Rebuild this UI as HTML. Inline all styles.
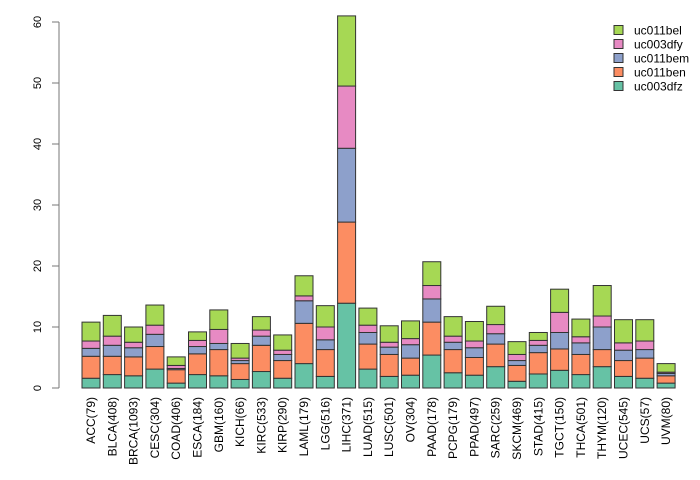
<!DOCTYPE html>
<html><head><meta charset="utf-8"><style>
html,body{margin:0;padding:0;background:#fff;}
svg{display:block;font-family:"Liberation Sans",Arial,sans-serif;}
</style></head><body>
<svg id="chart" width="700" height="480"></svg>
<script>
const categories=["ACC(79)","BLCA(408)","BRCA(1093)","CESC(304)","COAD(406)","ESCA(184)","GBM(160)","KICH(66)","KIRC(533)","KIRP(290)","LAML(179)","LGG(516)","LIHC(371)","LUAD(515)","LUSC(501)","OV(304)","PAAD(178)","PCPG(179)","PPAD(497)","SARC(259)","SKCM(469)","STAD(415)","TGCT(150)","THCA(501)","THYM(120)","UCEC(545)","UCS(57)","UVM(80)"];
const uc003dfz=[1.6,2.2,2.0,3.1,0.8,2.2,2.0,1.4,2.7,1.6,4.0,1.9,13.9,3.1,1.9,2.1,5.4,2.5,2.1,3.5,1.1,2.3,2.9,2.2,3.5,1.9,1.6,0.8];
const uc011ben=[3.6,3.0,3.1,3.7,2.2,3.4,4.3,2.6,4.3,2.9,6.6,4.4,13.3,4.1,3.6,2.8,5.4,3.8,2.9,3.7,2.6,3.5,3.5,3.3,2.8,2.6,3.3,1.2];
const uc011bem=[1.3,1.8,1.5,2.0,0.2,1.2,1.0,0.5,1.5,1.0,3.7,1.6,12.1,1.9,1.2,2.2,3.8,1.2,1.6,1.7,0.8,1.2,2.7,1.9,3.7,1.7,1.4,0.4];
const uc003dfy=[1.2,1.5,0.9,1.5,0.5,1.0,2.3,0.4,1.0,0.7,0.8,2.1,10.2,1.2,0.8,1.0,2.2,1.0,1.1,1.5,1.0,0.8,3.3,1.0,1.8,1.2,1.4,0.2];
const uc011bel=[3.1,3.4,2.5,3.3,1.4,1.4,3.2,2.4,2.2,2.5,3.3,3.5,11.5,2.8,2.7,2.9,3.9,3.2,3.2,3.0,2.1,1.3,3.8,2.9,5.0,3.8,3.5,1.4];
const yTicks=[0,10,20,30,40,50,60];
const seriesNames=["uc003dfz","uc011ben","uc011bem","uc003dfy","uc011bel"];
const seriesData=[uc003dfz,uc011ben,uc011bem,uc003dfy,uc011bel];
const colors=["#66c2a5","#fc8d62","#8da0cb","#e78ac3","#a6d854"];

const NS="http://www.w3.org/2000/svg";
const svg=document.getElementById('chart');
function mk(tag,attrs,parent){const e=document.createElementNS(NS,tag);for(const k in attrs)e.setAttribute(k,attrs[k]);(parent||svg).appendChild(e);return e;}
const y=v=>388-v*6.1;
const xLeft=i=>82+i*21.3;
const bw=18;

const axis=mk('line',{x1:59,x2:59,y1:y(0),y2:y(60),stroke:'#777','stroke-width':1});


yTicks.forEach(t=>{
  const tk=mk('line',{x1:52,x2:59,y1:y(t),y2:y(t),stroke:'#777','stroke-width':1});
  
  
  const lb=mk('text',{x:0,y:0,transform:`translate(41,${y(t)}) rotate(-90)`,'text-anchor':'middle','font-size':11,fill:'#000'});
  lb.textContent=t;
  
  
});

categories.forEach((c,i)=>{
  let cum=0;
  seriesData.forEach((s,k)=>{
    const v=s[i];
    const r=mk('rect',{x:xLeft(i),y:y(cum+v),width:bw,height:v*6.1,fill:colors[k],stroke:'#333','stroke-width':1});
    
    
    cum+=v;
  });
  const lb=mk('text',{x:0,y:0,transform:`translate(${xLeft(i)+bw/2+4},397) rotate(-90)`,'text-anchor':'end','font-size':12,fill:'#000'});
  lb.textContent=c;
  
  
});

const order=[4,3,2,1,0];
order.forEach((k,j)=>{
  const yy=30+j*14;
  const b=mk('rect',{x:614,y:yy-4.5,width:9,height:9,fill:colors[k],stroke:'#333','stroke-width':1});
  
  
  const t=mk('text',{x:634,y:yy+4.5,'font-size':12,fill:'#000'});
  t.textContent=seriesNames[k];
  
  
});
</script>
</body></html>
